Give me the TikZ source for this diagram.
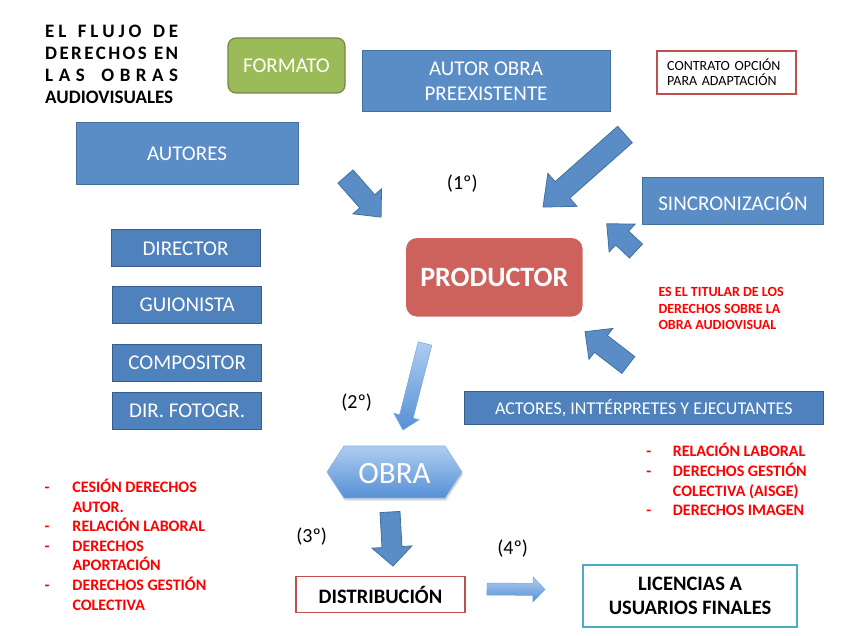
\documentclass[tikz,border=0pt]{standalone}
\usepackage{fontspec}
\setmainfont{Carlito}
\usetikzlibrary{shadows}
\definecolor{boxblue}{HTML}{5A8DC6}
\definecolor{boxblueD}{HTML}{4F81BD}
\definecolor{bordblue}{HTML}{41719C}
\definecolor{bordblueD}{HTML}{385D8A}
\definecolor{fgreen}{HTML}{9BBB59}
\definecolor{fgreenB}{HTML}{71893F}
\definecolor{prodred}{HTML}{CD625D}
\definecolor{boxred}{HTML}{C0504D}
\definecolor{boxcyan}{HTML}{4BACC6}
\definecolor{txtred}{HTML}{FF0000}
\definecolor{glossA}{HTML}{AECDF0}
\definecolor{glossB}{HTML}{5590D6}
\newcommand\blockarrow[8][]{%
  \path[#1,shift={(#2,#3)},rotate=#4]
    (0,-#6) -- ({#5-#8},-#6) -- ({#5-#8},-#7) -- (#5,0) -- ({#5-#8},#7) -- ({#5-#8},#6) -- (0,#6) -- cycle;}
\tikzset{
  lbox/.style={draw=bordblue, fill=boxblue, line width=1pt, text=white, inner sep=0pt, align=center, font=\fontsize{21}{25}\selectfont},
  dbox/.style={draw=bordblueD, fill=boxblueD, line width=1pt, text=white, inner sep=0pt, align=center, font=\fontsize{21}{25}\selectfont},
  wbox/.style={fill=white, inner sep=0pt, align=center, text=black, font=\bfseries\fontsize{20.5}{24.5}\selectfont},
  barrow/.style={fill=boxblue, draw=bordblue, line width=0.8pt, line join=miter},
  garrow/.style={top color=glossA, bottom color=glossB, draw=glossB!80!white, line width=0.5pt},
  step label/.style={inner sep=0pt, text=black, font=\fontsize{20}{24}\selectfont},
  redtext/.style={inner sep=0pt, text=txtred, font=\bfseries\fontsize{16}{19.6}\selectfont},
}
\begin{document}
\begin{tikzpicture}[x=1pt,y=-1pt]
\useasboundingbox[fill=white] (0,0) rectangle (848,636);

% title
\node[anchor=base west, inner sep=0pt, font=\bfseries\fontsize{19}{22.2}\selectfont] (title) at (45,37.3)
 {\begin{tabular}[t]{@{}l@{}}
  \makebox[133pt][s]{E\hfill L\hfill\hfill\hfill F\hfill L\hfill U\hfill J\hfill O\hfill\hfill\hfill D\hfill E}\\
  \makebox[133pt][s]{D\hfill E\hfill R\hfill E\hfill C\hfill H\hfill O\hfill S\hfill\hfill\hfill E\hfill N}\\
  \makebox[133pt][s]{L\hfill A\hfill S\hfill\hfill\hfill O\hfill B\hfill R\hfill A\hfill S}\\
  AUDIOVISUALES
 \end{tabular}};

% top boxes
\node[draw=fgreenB, fill=fgreen, line width=1.2pt, rounded corners=8pt, minimum width=117pt, minimum height=55pt, text=white, font=\fontsize{21}{25}\selectfont] (formato) at (286.5,65.5) {FORMATO};
\node[lbox, minimum width=248pt, minimum height=61pt] (autorobra) at (486,81.2) {AUTOR OBRA\\PREEXISTENTE};
\node[draw=boxred, line width=1.5pt, fill=white, inner xsep=10pt, inner ysep=0pt, text width=119pt, minimum height=43pt, align=left, font=\fontsize{14}{15.7}\selectfont] (contrato) at (726.7,72.3) {CONTRATO OPCIÓN\\PARA ADAPTACIÓN};
\node[lbox, minimum width=222pt, minimum height=62pt] (autores) at (187,154) {AUTORES};
\node[lbox, minimum width=180.6pt, minimum height=47pt] (sincro) at (733,201.5) {SINCRONIZACIÓN};

% productor
\node[draw=white, line width=4.3pt, fill=prodred, rounded corners=13pt, minimum width=181pt, minimum height=83pt,
      drop shadow={opacity=0.35, shadow xshift=1pt, shadow yshift=-2pt}, text=white, font=\bfseries\fontsize{28}{32}\selectfont] (productor) at (494.3,277.3) {PRODUCTOR};

% authors column
\node[dbox, minimum width=149pt, minimum height=36.7pt] (director) at (185.5,248.3) {DIRECTOR};
\node[dbox, minimum width=149pt, minimum height=36.7pt] (guionista) at (187.2,305) {GUIONISTA};
\node[dbox, minimum width=149pt, minimum height=36.7pt] (compositor) at (187.2,362.7) {COMPOSITOR};
\node[dbox, minimum width=149pt, minimum height=36.7pt] (dirfoto) at (187.2,410.7) {DIR. FOTOGR.};

\node[dbox, minimum width=359pt, minimum height=32.6pt, font=\fontsize{18}{22}\selectfont] (actores) at (643.8,408) {ACTORES, INTTÉRPRETES Y EJECUTANTES};

% red notes
\node[anchor=base west, inner sep=0pt, text=txtred, align=left, font=\bfseries\fontsize{14}{16.4}\selectfont] (nota) at (658.3,296.8)
 {\begin{tabular}[t]{@{}l@{}}ES EL TITULAR DE LOS\\DERECHOS SOBRE LA\\OBRA AUDIOVISUAL\end{tabular}};
\node[anchor=base west, redtext] (listaizq) at (44.5,492.5)
 {\begin{tabular}[t]{@{}p{27.8pt}@{}l@{}}
  - & CESIÓN DERECHOS\\
    & AUTOR.\\
  - & RELACIÓN LABORAL\\
  - & DERECHOS\\
    & APORTACIÓN\\
  - & DERECHOS GESTIÓN\\
    & COLECTIVA
 \end{tabular}};
\node[anchor=base west, redtext] (listader) at (646.2,456.9)
 {\begin{tabular}[t]{@{}p{26.5pt}@{}l@{}}
  - & RELACIÓN LABORAL\\
  - & DERECHOS GESTIÓN\\
    & COLECTIVA (AISGE)\\
  - & DERECHOS IMAGEN
 \end{tabular}};

% step labels
\node[step label] (n1) at (462.3,184) {(1º)};
\node[step label] (n2) at (356.7,402.7) {(2º)};
\node[step label] (n3) at (311.7,536.7) {(3º)};
\node[step label] (n4) at (512.7,548.3) {(4º)};

% OBRA hexagon
\path[top color=glossA, bottom color=glossB, draw=glossB!70!white, line width=0.6pt,
      drop shadow={opacity=0.3, shadow xshift=1pt, shadow yshift=-2.5pt}]
  (327,472) -- (344,446) -- (445,446) -- (462,472) -- (445,498) -- (344,498) -- cycle;
\node[inner sep=0pt, text=white, font=\fontsize{31}{36}\selectfont] (obra) at (394.5,474) {OBRA};

% bottom boxes
\node[wbox, draw=boxred, line width=1.5pt, minimum width=169pt, minimum height=36pt] (distrib) at (380.5,594.7) {DISTRIBUCIÓN};
\node[wbox, draw=boxcyan, line width=2pt, minimum width=213.4pt, minimum height=61.7pt] (licencias) at (690,595.8) {LICENCIAS A\\USUARIOS FINALES};

% block arrows
\blockarrow[barrow]{345.5}{176.5}{-48.8}{54}{10}{19}{21}
\blockarrow[barrow]{625}{134.5}{221.5}{109.5}{11}{22}{26}
\blockarrow[barrow]{636}{251}{137}{40}{9.5}{19}{21}
\blockarrow[barrow]{628.3}{365}{142.4}{54.6}{10.6}{19.5}{20}
\blockarrow[garrow]{425}{343.5}{-104.3}{89.3}{7}{13}{14}
\blockarrow[barrow]{390}{512}{-86.8}{54.1}{10}{20}{19}
\blockarrow[garrow]{487}{589}{-0.5}{58}{6}{12.5}{12}
\end{tikzpicture}
\end{document}
